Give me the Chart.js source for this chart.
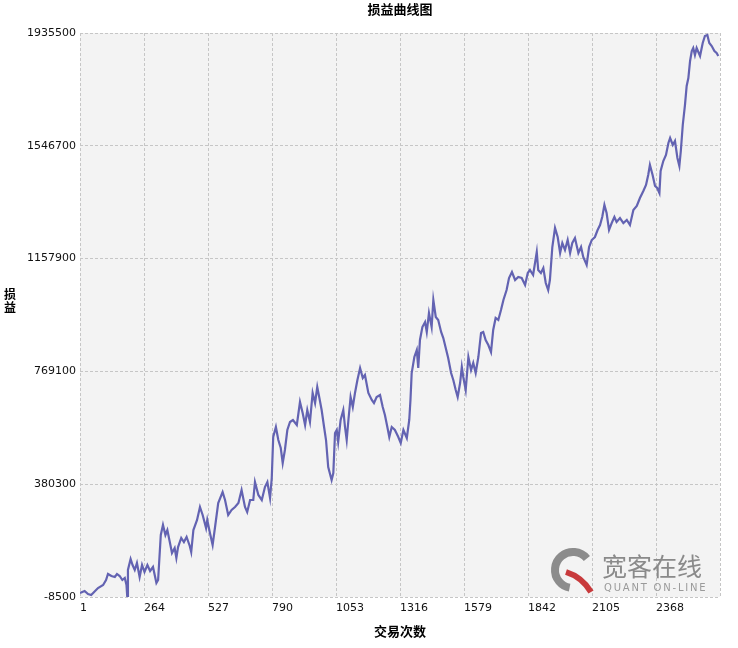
<!DOCTYPE html>
<html>
<head>
<meta charset="utf-8">
<title>损益曲线图</title>
<script src="https://cdn.jsdelivr.net/npm/chart.js@4.4.1/dist/chart.umd.min.js"></script>
<style>
body { margin: 0; background: #fff; }
#wrap { width: 738px; height: 648px; }
</style>
</head>
<body>
<div id="wrap"><canvas id="pnl-chart" width="738" height="648"></canvas></div>
<script>
// trade number (x) and cumulative profit/loss (y)
var trades = [
    1, 20, 34, 47, 63, 75, 96, 108, 116, 130,
    144, 153, 164, 175, 185, 192, 195, 198, 209, 217,
    226, 235, 246, 256, 266, 278, 289, 301, 315, 322,
    333, 342, 352, 360, 370, 379, 390, 397, 404, 417,
    428, 439, 452, 458, 467, 482, 494, 505, 519, 524,
    535, 546, 556, 569, 587, 597, 610, 624, 638, 652,
    665, 679, 688, 700, 713, 720, 734, 748, 761, 771,
    782, 789, 795, 806, 816, 826, 834, 843, 853, 864,
    876, 892, 905, 916, 926, 935, 946, 957, 967, 976,
    984, 994, 1004, 1012, 1021, 1035, 1042, 1049, 1056, 1062,
    1072, 1083, 1090, 1097, 1104, 1113, 1122, 1131, 1141, 1152,
    1163, 1172, 1186, 1200, 1209, 1220, 1234, 1245, 1254, 1264,
    1272, 1282, 1295, 1309, 1319, 1330, 1344, 1354, 1359, 1364,
    1375, 1385, 1391, 1398, 1408, 1419, 1426, 1435, 1446, 1453,
    1463, 1473, 1485, 1494, 1504, 1514, 1526, 1535, 1545, 1553,
    1563, 1570, 1576, 1586, 1597, 1608, 1617, 1627, 1638, 1649,
    1658, 1668, 1679, 1690, 1699, 1709, 1720, 1731, 1741, 1754,
    1764, 1776, 1789, 1802, 1816, 1830, 1841, 1850, 1863, 1878,
    1884, 1895, 1905, 1915, 1925, 1932, 1942, 1953, 1964, 1974,
    1983, 1994, 2005, 2015, 2024, 2035, 2049, 2060, 2069, 2083,
    2093, 2104, 2117, 2128, 2138, 2147, 2156, 2165, 2175, 2186,
    2197, 2206, 2220, 2234, 2248, 2261, 2275, 2289, 2302, 2316,
    2327, 2336, 2343, 2354, 2364, 2373, 2382, 2387, 2398, 2409,
    2419, 2426, 2437, 2446, 2456, 2464, 2470, 2478, 2487, 2494,
    2501, 2508, 2515, 2521, 2528, 2535, 2549, 2560, 2569, 2579,
    2587, 2597, 2608, 2617, 2624
];
var pnl = [
    5300, 12200, 1800, -1600, 12200, 22500, 32900, 50100, 70800, 63900,
    60400, 70800, 63900, 50100, 57000, 32900, -5100, 84600, 122500, 101800,
    84600, 108700, 60400, 101800, 77700, 101800, 81100, 94900, 39800, 50100,
    205200, 239700, 205200, 222400, 181100, 143200, 160400, 125900, 163800, 194900,
    181100, 198300, 167300, 146600, 222400, 256900, 301700, 274100, 229300, 256900,
    212100, 170700, 232800, 315500, 353400, 325800, 274100, 291400, 301700, 315500,
    360300, 301700, 284500, 325800, 325800, 387900, 343100, 325800, 370600, 387900,
    332700, 401700, 543000, 577500, 532600, 505100, 453400, 498200, 567100, 594700,
    601600, 584400, 663600, 625700, 584400, 636100, 594700, 694600, 660200, 715300,
    680900, 636100, 577500, 532600, 439600, 394800, 418900, 556800, 567100, 525800,
    601600, 636100, 577500, 532600, 601600, 680900, 646400, 694600, 739500, 780800,
    746300, 756700, 694600, 670500, 660200, 680900, 687800, 646400, 618800, 577500,
    543000, 577500, 567100, 543000, 522300, 567100, 539500, 601600, 670500, 763600,
    818700, 842900, 780800, 877300, 922100, 939400, 904900, 970400, 922100, 1015200,
    956600, 946300, 904900, 884200, 849800, 815300, 763600, 739500, 705000, 680900,
    729100, 784300, 749800, 705000, 818700, 773900, 798100, 763600, 818700, 901500,
    904900, 877300, 860100, 836000, 911800, 953200, 946300, 980700, 1015200, 1049700,
    1091000, 1111700, 1084100, 1094500, 1091000, 1066900, 1108300, 1118600, 1101400, 1180600,
    1118600, 1108300, 1125500, 1073800, 1049700, 1084100, 1197900, 1263400, 1232300, 1177200,
    1211700, 1187500, 1222000, 1177200, 1211700, 1228900, 1177200, 1197900, 1163400, 1135800,
    1197900, 1222000, 1232300, 1256500, 1273700, 1301300, 1342600, 1315100, 1256500, 1280600,
    1301300, 1284100, 1297800, 1280600, 1290900, 1273700, 1325400, 1339200, 1366800, 1390900,
    1411600, 1446100, 1480500, 1446100, 1408100, 1401200, 1384000, 1459800, 1494300, 1515000,
    1556300, 1573600, 1549500, 1563200, 1504600, 1477100, 1528800, 1618400, 1687300, 1752800,
    1780400, 1839000, 1873500, 1883800, 1859700, 1883800, 1856200, 1901000, 1925200, 1928600,
    1901000, 1890700, 1873500, 1866600, 1856200
];
var xTicks = [1, 264, 527, 790, 1053, 1316, 1579, 1842, 2105, 2368, 2631];
var yTicks = [-8500, 380300, 769100, 1157900, 1546700, 1935500];

var gridColor = '#c6c6c6';
var tickFont = { family: 'DejaVu Sans', size: 11 };

var plotBackground = {
    id: 'plotBackground',
    beforeDraw: function (chart) {
        var a = chart.chartArea;
        var ctx = chart.ctx;
        ctx.save();
        ctx.fillStyle = '#f3f3f3';
        ctx.fillRect(a.left, a.top, a.right - a.left, a.bottom - a.top);
        ctx.restore();
    }
};

// upright, stacked y axis title and the site watermark
var extras = {
    id: 'extras',
    beforeDatasetsDraw: function (chart) {
        var ctx = chart.ctx;
        ctx.save();
        ctx.lineWidth = 8;
        ctx.strokeStyle = '#8c8c8c';
        ctx.beginPath();
        ctx.arc(573, 570, 18, -0.22 * Math.PI, 0.56 * Math.PI, true);
        ctx.stroke();
        ctx.lineWidth = 6;
        ctx.strokeStyle = '#c83a3c';
        ctx.beginPath();
        ctx.moveTo(566, 572);
        ctx.quadraticCurveTo(582, 577, 591, 592);
        ctx.stroke();
        ctx.fillStyle = '#8a8a8a';
        ctx.font = '25px "Noto Sans CJK SC"';
        ctx.textBaseline = 'middle';
        ctx.textAlign = 'left';
        ctx.fillText('宽客在线', 602, 566);
        ctx.fillStyle = '#9a9a9a';
        ctx.font = '10px "DejaVu Sans"';
        ctx.letterSpacing = '1.8px';
        ctx.fillText('QUANT ON-LINE', 604, 588);
        ctx.restore();
    },
    afterDraw: function (chart) {
        var ctx = chart.ctx;
        ctx.save();
        ctx.fillStyle = '#000';
        ctx.font = 'bold 12px "Noto Sans CJK SC"';
        ctx.textAlign = 'center';
        ctx.textBaseline = 'middle';
        ctx.fillText('损', 10, 294);
        ctx.fillText('益', 10, 307);
        ctx.restore();
    }
};

var points = [];
for (var i = 0; i < trades.length; i++) {
    points.push({ x: trades[i], y: pnl[i] });
}

var ctx = document.getElementById('pnl-chart').getContext('2d');
var pnlChart = new Chart(ctx, {
    type: 'line',
    data: {
        datasets: [{
            label: '损益',
            data: points,
            borderColor: '#6363b2',
            borderWidth: 2.2,
            pointRadius: 0,
            tension: 0,
            fill: false
        }]
    },
    plugins: [plotBackground, extras],
    options: {
        responsive: false,
        animation: false,
        layout: { padding: { left: 0, right: 18, top: 0, bottom: 0 } },
        plugins: {
            legend: { display: false },
            tooltip: { enabled: false },
            title: {
                display: true,
                text: '损益曲线图',
                fullSize: false,
                color: '#000',
                font: { family: 'Noto Sans CJK SC', size: 13, weight: 'bold' },
                padding: { top: 1, bottom: 16.4 }
            }
        },
        scales: {
            x: {
                type: 'linear',
                min: xTicks[0],
                max: xTicks[xTicks.length - 1],
                afterBuildTicks: function (scale) {
                    scale.ticks = xTicks.map(function (v) { return { value: v }; });
                },
                afterFit: function (scale) { scale.height = 51; },
                grid: { color: gridColor, drawTicks: false },
                border: { display: false, dash: [3, 2] },
                ticks: {
                    align: 'start',
                    padding: 5,
                    color: '#111',
                    font: tickFont,
                    maxRotation: 0,
                    autoSkip: false,
                    callback: function (v) {
                        return v === xTicks[xTicks.length - 1] ? '' : String(v);
                    }
                },
                title: {
                    display: true,
                    text: '交易次数',
                    color: '#000',
                    font: { family: 'Noto Sans CJK SC', size: 13, weight: 'bold' },
                    padding: { top: 0, bottom: 9 }
                }
            },
            y: {
                min: yTicks[0],
                max: yTicks[yTicks.length - 1],
                afterBuildTicks: function (scale) {
                    scale.ticks = yTicks.map(function (v) { return { value: v }; });
                },
                afterFit: function (scale) { scale.width = 80; },
                grid: { color: gridColor, drawTicks: false },
                border: { display: false, dash: [3, 2] },
                ticks: {
                    padding: 4,
                    color: '#111',
                    font: tickFont,
                    autoSkip: false,
                    callback: function (v) { return String(v); }
                }
            }
        }
    }
});
</script>
</body>
</html>
